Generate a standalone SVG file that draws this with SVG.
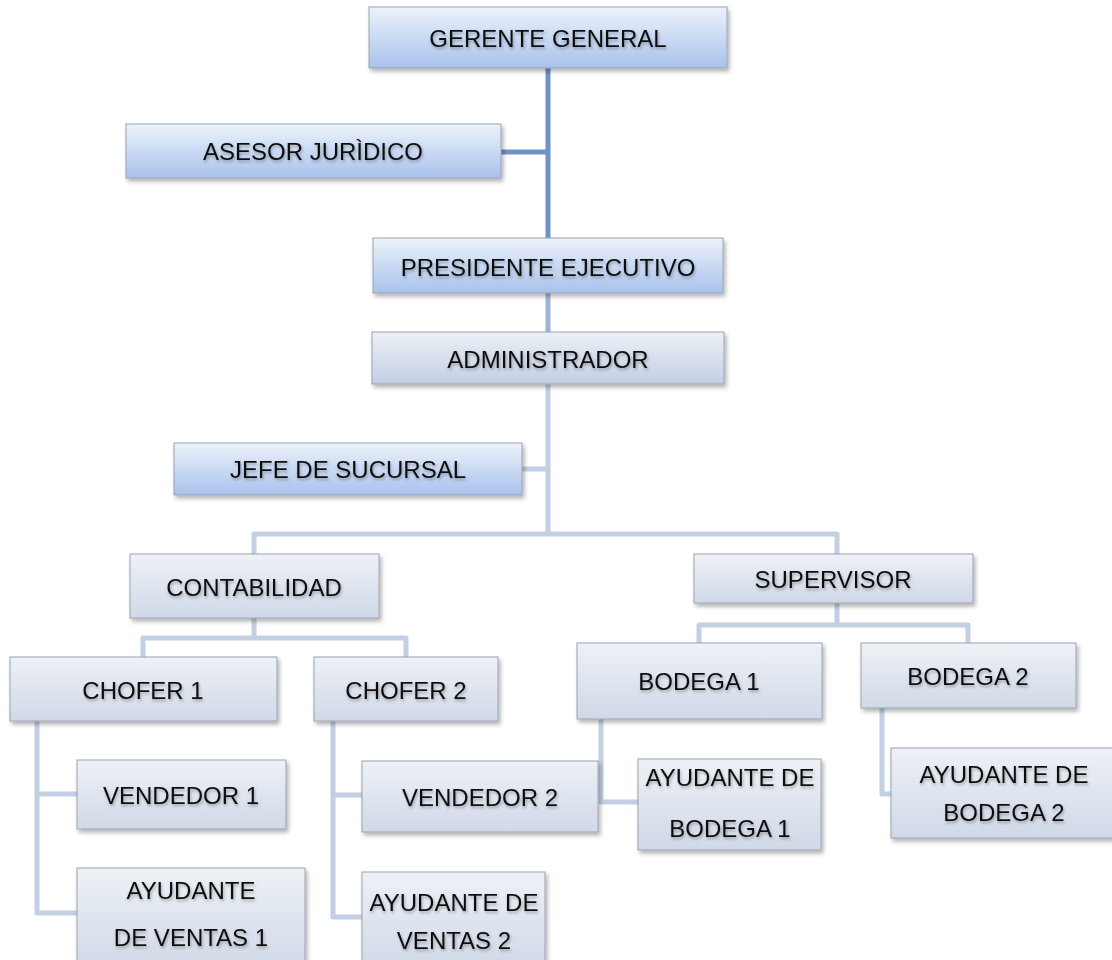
<svg xmlns="http://www.w3.org/2000/svg" width="1112" height="960" viewBox="0 0 1112 960">
<defs>
<linearGradient id="gBlue" x1="0" y1="0" x2="0" y2="1">
<stop offset="0" stop-color="#edf2fb"/><stop offset="1" stop-color="#a8c2ec"/>
</linearGradient>
<linearGradient id="gAdm" x1="0" y1="0" x2="0" y2="1">
<stop offset="0" stop-color="#edf0f6"/><stop offset="1" stop-color="#c2cfe4"/>
</linearGradient>
<linearGradient id="gLight" x1="0" y1="0" x2="0" y2="1">
<stop offset="0" stop-color="#eef1f6"/><stop offset="1" stop-color="#d0d9e8"/>
</linearGradient>
<filter id="sh" x="-5%" y="-10%" width="112%" height="130%">
<feDropShadow dx="2" dy="3" stdDeviation="2" flood-color="#000" flood-opacity="0.3"/>
</filter>
<filter id="tsh" x="-5%" y="-20%" width="110%" height="150%">
<feDropShadow dx="1" dy="2" stdDeviation="1.5" flood-color="#000" flood-opacity="0.3"/>
</filter>
</defs>
<style>
rect{stroke:#9aa3b2;stroke-width:1;filter:url(#sh)}
.b{fill:url(#gBlue)}
.a{fill:url(#gAdm)}
.l{fill:url(#gLight)}
text{font-family:"Liberation Sans",Arial,sans-serif;font-size:24px;fill:#111;text-anchor:middle;filter:url(#tsh)}
.c{fill:none;stroke-width:5;stroke-linejoin:round;stroke-linecap:butt}
.c1{stroke:#7192c4}
.c2{stroke:#9fb5d6}
.c3{stroke:#c3cfe3}
</style>
<g id="connectors">
<polyline class="c c1" points="548,68 548,238"/>
<polyline class="c c1" points="501,152 548,152"/>
<polyline class="c c2" points="548,293 548,332"/>
<polyline class="c c3" points="548,384 548,534"/>
<polyline class="c c3" points="522,469 548,469"/>
<polyline class="c c3" points="254,554 254,534 837,534 837,554"/>
<polyline class="c c3" points="254,618 254,638"/>
<polyline class="c c3" points="143,657 143,638 406,638 406,657"/>
<polyline class="c c3" points="837,603 837,625"/>
<polyline class="c c3" points="699,643 699,625 968,625 968,643"/>
<polyline class="c c3" points="37,721 37,913 77,913"/>
<polyline class="c c3" points="37,794 77,794"/>
<polyline class="c c3" points="333,721 333,917 362,917"/>
<polyline class="c c3" points="333,795 362,795"/>
<polyline class="c c3" points="601,719 601,802 638,802"/>
<polyline class="c c3" points="882,708 882,794 891,794"/>
</g>
<g id="gerente"><rect class="b" x="369" y="7" width="358" height="61"/><text x="548" y="47">GERENTE GENERAL</text></g>
<g id="asesor"><rect class="b" x="126" y="124" width="375" height="54"/><text x="313" y="160">ASESOR JURÌDICO</text></g>
<g id="presidente"><rect class="b" x="373" y="238" width="350" height="55"/><text x="548" y="276">PRESIDENTE EJECUTIVO</text></g>
<g id="administrador"><rect class="a" x="372" y="332" width="352" height="52"/><text x="548" y="368">ADMINISTRADOR</text></g>
<g id="jefe"><rect class="b" x="174" y="443" width="348" height="52"/><text x="348" y="478">JEFE DE SUCURSAL</text></g>
<g id="contabilidad"><rect class="l" x="130" y="554" width="249" height="64"/><text x="254" y="596">CONTABILIDAD</text></g>
<g id="supervisor"><rect class="l" x="694" y="554" width="279" height="49"/><text x="833" y="588">SUPERVISOR</text></g>
<g id="chofer1"><rect class="l" x="10" y="657" width="267" height="64"/><text x="143" y="699">CHOFER 1</text></g>
<g id="chofer2"><rect class="l" x="314" y="657" width="184" height="64"/><text x="406" y="699">CHOFER 2</text></g>
<g id="bodega1"><rect class="l" x="577" y="643" width="245" height="76"/><text x="699" y="690">BODEGA 1</text></g>
<g id="bodega2"><rect class="l" x="861" y="643" width="215" height="65"/><text x="968" y="685">BODEGA 2</text></g>
<g id="vendedor1"><rect class="l" x="77" y="760" width="209" height="69"/><text x="181" y="804">VENDEDOR 1</text></g>
<g id="vendedor2"><rect class="l" x="362" y="761" width="236" height="71"/><text x="480" y="806">VENDEDOR 2</text></g>
<g id="ayudante-ventas1"><rect class="l" x="77" y="868" width="228" height="100"/><text x="191" y="899">AYUDANTE</text><text x="191" y="946">DE VENTAS 1</text></g>
<g id="ayudante-ventas2"><rect class="l" x="362" y="872" width="183" height="96"/><text x="454" y="911">AYUDANTE DE</text><text x="454" y="949">VENTAS 2</text></g>
<g id="ayudante-bodega1"><rect class="l" x="638" y="759" width="183" height="91"/><text x="730" y="786">AYUDANTE DE</text><text x="730" y="837">BODEGA 1</text></g>
<g id="ayudante-bodega2"><rect class="l" x="891" y="748" width="225" height="90"/><text x="1004" y="783">AYUDANTE DE</text><text x="1004" y="821">BODEGA 2</text></g>
</svg>
